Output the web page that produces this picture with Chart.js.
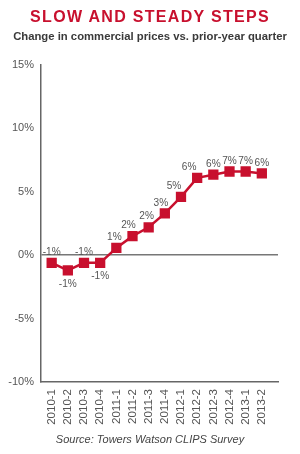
<!DOCTYPE html>
<html>
<head>
<meta charset="utf-8">
<script src="https://cdn.jsdelivr.net/npm/chart.js@4"></script>
<style>
  html, body { margin: 0; padding: 0; background: #fff; }
  #wrap { position: relative; width: 300px; height: 454px; overflow: hidden; font-family: "Liberation Sans", Arial, sans-serif; }
  #title { position: absolute; left: 0; width: 300px; top: 7px; text-align: center; color: #c8102e; font-weight: bold; font-size: 16px; letter-spacing: 1.3px; line-height: 20px; }
  #subtitle { position: absolute; left: 0; width: 300px; top: 29px; text-align: center; color: #3a3a3a; font-weight: bold; font-size: 11.3px; line-height: 14px; }
  #source { position: absolute; left: 0; width: 300px; top: 432px; text-align: center; color: #444; font-style: italic; font-size: 11px; line-height: 14px; }
  #chartBox { position: absolute; left: 0; top: 0; width: 300px; height: 454px; }
</style>
</head>
<body>
<div id="wrap">
  <div id="chartBox"><canvas id="c" width="300" height="454"></canvas></div>
  <div id="title">SLOW AND STEADY STEPS</div>
  <div id="subtitle">Change in commercial prices vs. prior-year quarter</div>
  <div id="source">Source: Towers Watson CLIPS Survey</div>
</div>
<script>
const categories = ["2010-1","2010-2","2010-3","2010-4","2011-1","2011-2","2011-3","2011-4","2012-1","2012-2","2012-3","2012-4","2013-1","2013-2"];
const changeValues = [-0.6, -1.2, -0.6, -0.6, 0.57, 1.5, 2.2, 3.3, 4.6, 6.1, 6.35, 6.6, 6.6, 6.45];
const yTickValues = [-10, -5, 0, 5, 10, 15];

const RED = '#c8102e';
const GREY_TEXT = '#555';
const TICK_FONT = '"Liberation Sans", Arial, sans-serif';
const labelsBelow = new Set([1, 3]);
const labelShiftX = { 4: -2, 5: -4, 6: -2, 7: -4, 8: -7, 9: -8 };

const pointLabels = {
  id: 'pointLabels',
  afterDatasetsDraw(chart) {
    const ctx = chart.ctx;
    const meta = chart.getDatasetMeta(0);
    const sx = 0.88;
    meta.data.forEach((pt, i) => {
      const v = chart.data.datasets[0].data[i].y;
      const txt = Math.round(v) + '%';
      const y = labelsBelow.has(i) ? pt.y + 13 : pt.y - 11;
      const x = pt.x + (labelShiftX[i] || 0);
      ctx.save();
      ctx.font = '11.5px ' + TICK_FONT;
      ctx.fillStyle = GREY_TEXT;
      ctx.textAlign = 'center';
      ctx.textBaseline = 'middle';
      ctx.translate(x, y);
      ctx.scale(sx, 1);
      ctx.fillText(txt, 0, 0);
      ctx.restore();
    });
  }
};

new Chart(document.getElementById('c'), {
  type: 'line',
  data: {
    datasets: [{
      data: changeValues.map((v, i) => ({ x: i, y: v })),
      borderColor: RED,
      backgroundColor: RED,
      borderWidth: 2.5,
      pointStyle: 'rect',
      pointRadius: 5.5,
      pointHoverRadius: 5.5,
      tension: 0
    }]
  },
  options: {
    responsive: false,
    animation: false,
    devicePixelRatio: 1,
    layout: { padding: { left: 0, right: 22, top: 65, bottom: 0 } },
    plugins: { legend: { display: false }, tooltip: { enabled: false } },
    scales: {
      x: {
        type: 'linear',
        min: -0.66,
        max: 14.0,
        afterBuildTicks: (s) => { s.ticks = categories.map((c, i) => ({ value: i })); },
        afterFit: (s) => { s.height = 72; },
        grid: { display: false },
        border: { display: true, color: '#666', width: 1.5 },
        ticks: {
          autoSkip: false,
          minRotation: 90,
          maxRotation: 90,
          padding: -1,
          color: GREY_TEXT,
          font: { family: TICK_FONT, size: 11.5 },
          callback: (v) => categories[v]
        }
      },
      y: {
        min: -10,
        max: 15,
        afterBuildTicks: (s) => { s.ticks = yTickValues.map(v => ({ value: v })); },
        afterFit: (s) => { s.width = 41; },
        grid: {
          drawTicks: false,
          lineWidth: 1.5,
          color: (ctx) => (ctx.tick && ctx.tick.value === 0) ? '#777' : 'rgba(0,0,0,0)'
        },
        border: { display: true, color: '#666', width: 1.5 },
        ticks: {
          padding: 7,
          color: GREY_TEXT,
          font: { family: TICK_FONT, size: 11 },
          callback: (v) => v + '%'
        }
      }
    }
  },
  plugins: [pointLabels]
});
</script>
</body>
</html>
